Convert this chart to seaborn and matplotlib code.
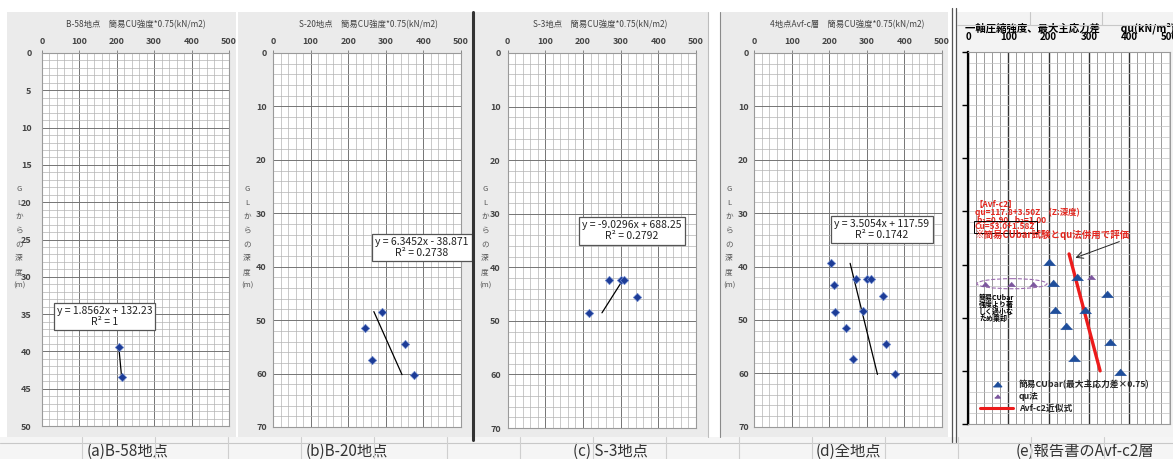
import numpy as np
import pandas as pd
import matplotlib
matplotlib.use("Agg")
import matplotlib.pyplot as plt
import seaborn as sns
from matplotlib.patches import Rectangle, Ellipse
from matplotlib.lines import Line2D
from matplotlib.markers import MarkerStyle
from matplotlib.ticker import MultipleLocator

# ---------------- data ----------------
b58_depth = [39.4, 43.4]
b58_cu = [205.2, 212.7]
b20_depth = [48.4, 51.5, 54.5, 57.4, 60.2]
b20_cu = [291.0, 244.3, 352.2, 264.6, 376.2]
s3_depth = [42.4, 42.4, 42.4, 45.5, 48.5]
s3_cu = [270.2, 300.3, 310.1, 342.5, 216.5]

fit_slope = [1.8562, 6.3452, -9.0296, 3.5054]
fit_intercept = [132.23, -38.871, 688.25, 117.59]
fit_r2 = ["1", "0.2738", "0.2792", "0.1742"]

panel_titles = ["B-58地点　簡易CU強度*0.75(kN/m2)",
                "S-20地点　簡易CU強度*0.75(kN/m2)",
                "S-3地点　簡易CU強度*0.75(kN/m2)",
                "4地点Avf-c層　簡易CU強度*0.75(kN/m2)"]
captions = ["(a)B-58地点", "(b)B-20地点", "(c) S-3地点", "(d)全地点", "(e)報告書のAvf-c2層"]
ylabel_chars = ["G", "L", "か", "ら", "の", "深", "度", "(m)"]

# panel (e)
cubar_depth = [39.5, 43.5, 42.4, 45.5, 48.5, 48.5, 51.5, 54.5, 57.5, 60.2]
cubar_strength = [201, 212, 270, 344, 215, 291, 242, 353, 263, 376]
qu_depth = [42.4, 43.6, 43.6, 43.6]
qu_strength = [304, 42, 107, 161]
avf_intercept = 117.8
avf_slope = 3.50
avf_depth_range = [38.0, 60.0]

# ---------------- setup ----------------
sns.set_theme(style="white")
plt.rcParams["font.family"] = ["Noto Sans CJK JP", "DejaVu Sans"]

W, H = 1173, 459
fig = plt.figure(figsize=(W / 100, H / 100), dpi=100)
fig.patch.set_facecolor("white")


def fx(px):
    return px / W


def fy(py):
    return 1 - py / H


def add_ax(x0, x1, y0, y1):
    return fig.add_axes([fx(x0), fy(y1), (x1 - x0) / W, (y1 - y0) / H])


def frect(x0, y0, x1, y1, **kw):
    r = Rectangle((fx(x0), fy(y1)), (x1 - x0) / W, (y1 - y0) / H,
                  transform=fig.transFigure, zorder=-5, **kw)
    fig.add_artist(r)


def fline(xs, ys, **kw):
    l = Line2D([fx(x) for x in xs], [fy(y) for y in ys],
               transform=fig.transFigure, **kw)
    fig.add_artist(l)


# panel backgrounds
for x0, x1 in [(7, 236), (238, 472), (475, 708), (720, 948)]:
    frect(x0, 12, x1, 437, facecolor="#ebebeb", edgecolor="none")
frect(957, 12, 1173, 437, facecolor="#f3f3f3", edgecolor="none")
frect(0, 437, 1173, 459, facecolor="#f5f5f5", edgecolor="none")

# separators
fline([473, 473], [12, 440], color="#333333", lw=2.2, zorder=5)
fline([708, 708], [12, 437], color="#bdbdbd", lw=0.8, zorder=5)
fline([720, 720], [12, 437], color="#8a8a8a", lw=0.8, zorder=5)
fline([952, 952], [8, 442], color="#555555", lw=0.9, zorder=5)
fline([955.5, 955.5], [8, 442], color="#555555", lw=0.9, zorder=5)
fline([0, 1173], [443, 443], color="#c8c8c8", lw=0.8, zorder=5)
fline([957, 1173], [25, 25], color="#c8c8c8", lw=0.8, zorder=5)
for cx in [1030, 1102]:
    fline([cx, cx], [12, 25], color="#c8c8c8", lw=0.8, zorder=5)
for k in range(15):
    cx = 82 + 73 * k
    fline([cx, cx], [437, 459], color="#cfcfcf", lw=0.8, zorder=5)

# ---------------- panels a-d ----------------
datasets = [
    (b58_cu, b58_depth),
    (b20_cu, b20_depth),
    (s3_cu, s3_depth),
    (b58_cu + b20_cu + s3_cu, b58_depth + b20_depth + s3_depth),
]
ax_px = [(42, 229, 53, 426), (273, 461, 53, 427), (507.7, 696, 53, 428), (754.3, 941.7, 53, 426.7)]
ylims = [50, 70, 70, 70]
ymaj = [5, 10, 10, 10]
ymin = [1, 2, 2, 2]
ypads = [5.5, 2.5, 3, 2]
title_cx = [136, 368, 600, 847]
ylabel_cx = [19, 247, 485, 729]
box_pos = [(167, 35.3), (396, 36.4), (330, 33.2), (340.7, 33.1)]

for i in range(4):
    ax = add_ax(*ax_px[i])
    ax.set_facecolor("white")
    cu, dep = datasets[i]
    df = pd.DataFrame({"cu": cu, "depth": dep})
    sns.scatterplot(data=df, x="cu", y="depth", ax=ax, marker="D", s=18,
                    color="#1d3c97", edgecolor="#6c88cc", linewidth=0.5, zorder=4)
    d_line = np.array([min(dep), max(dep)])
    x_line = fit_slope[i] * d_line + fit_intercept[i]
    sns.lineplot(x=x_line, y=d_line, ax=ax, sort=False, estimator=None,
                 color="black", lw=0.9, zorder=3)
    ax.set_xlim(0, 500)
    ax.set_ylim(ylims[i], 0)
    ax.xaxis.tick_top()
    ax.set_xticks(np.arange(0, 501, 100))
    ax.set_yticks(np.arange(0, ylims[i] + 1, ymaj[i]))
    ax.xaxis.set_minor_locator(MultipleLocator(20))
    ax.yaxis.set_minor_locator(MultipleLocator(ymin[i]))
    ax.grid(True, which="major", color="#747474", lw=0.7)
    ax.grid(True, which="minor", color="#b4b4b4", lw=0.5)
    ax.set_axisbelow(True)
    ax.set_xlabel("")
    ax.set_ylabel("")
    ax.tick_params(axis="both", which="major", direction="inout", length=4,
                   width=0.6, color="#777777", labelsize=6.5, labelcolor="#444444")
    ax.tick_params(axis="x", which="major", pad=3)
    ax.tick_params(axis="y", which="major", pad=ypads[i])
    ax.tick_params(which="minor", length=0)
    for lab in ax.get_xticklabels() + ax.get_yticklabels():
        lab.set_fontweight("bold")
    for sp in ax.spines.values():
        sp.set_color("#9a9a9a")
        sp.set_linewidth(0.8)
    sign = "+" if fit_intercept[i] >= 0 else "-"
    eq = f"y = {fit_slope[i]:g}x {sign} {abs(fit_intercept[i]):g}\nR² = {fit_r2[i]}"
    ax.text(box_pos[i][0], box_pos[i][1], eq, ha="center", va="center",
            multialignment="center", fontsize=7.5, color="#222222", zorder=6,
            linespacing=1.15,
            bbox=dict(boxstyle="square,pad=0.3", facecolor="white",
                      edgecolor="#555555", lw=0.9))
    fig.text(fx(title_cx[i]), fy(25), panel_titles[i], ha="center", va="center",
             fontsize=6, color="#444444")
    for k, ch in enumerate(ylabel_chars):
        fig.text(fx(ylabel_cx[i]), fy(189 + 13.8 * k), ch, ha="center", va="center",
                 fontsize=5.5, color="#555555")

# ---------------- panel e ----------------
ax = add_ax(968, 1169.5, 52, 424)
ax.set_facecolor("white")
tri = MarkerStyle([(-1, -0.55), (1, -0.55), (0, 0.6)])
dfc = pd.DataFrame({"q": cubar_strength, "depth": cubar_depth})
sns.scatterplot(data=dfc, x="q", y="depth", ax=ax, marker=tri, s=75,
                color="#1f4e9b", edgecolor="#1f4e9b", linewidth=0.3, zorder=5)
dfq = pd.DataFrame({"q": qu_strength, "depth": qu_depth})
sns.scatterplot(data=dfq, x="q", y="depth", ax=ax, marker=tri, s=35,
                color="#7c569e", edgecolor="#7c569e", linewidth=0.3, zorder=5)
zr = np.array(avf_depth_range)
sns.lineplot(x=avf_intercept + avf_slope * zr, y=zr, ax=ax, sort=False,
             estimator=None, color="#ec1b1b", lw=2.4, zorder=4)
ax.set_xlim(0, 500)
ax.set_ylim(70, 0)
ax.xaxis.tick_top()
ax.set_xticks(np.arange(0, 501, 100))
ax.set_yticks(np.arange(0, 71, 10))
ax.set_yticklabels([])
ax.xaxis.set_minor_locator(MultipleLocator(20))
ax.yaxis.set_minor_locator(MultipleLocator(2))
ax.xaxis.grid(True, which="major", color="#333333", lw=1.0)
ax.xaxis.grid(True, which="minor", color="#8c8c8c", lw=0.6)
ax.yaxis.grid(True, which="both", color="#c0c0c0", lw=0.5)
ax.set_axisbelow(True)
ax.set_xlabel("")
ax.set_ylabel("")
ax.tick_params(axis="x", which="major", length=0, pad=7, labelsize=7,
               labelcolor="black")
ax.tick_params(axis="y", which="major", direction="out", length=4, width=1,
               color="black", left=True)
ax.tick_params(which="minor", length=0)
for lab in ax.get_xticklabels():
    lab.set_fontweight("bold")
for sp in ax.spines.values():
    sp.set_color("#9a9a9a")
    sp.set_linewidth(0.8)
ax.spines["left"].set_color("black")
ax.spines["left"].set_linewidth(1.6)

red = "#e3261e"
ax.text(17, 28.6, "【Avf-c2】", color=red, fontsize=6, fontweight="bold", va="center")
ax.text(17, 30.1, "qu=117.8+3.50Z　(Z:深度)", color=red, fontsize=6, fontweight="bold", va="center")
ax.text(22, 31.5, "b₁=0.90,  b₂=1.00", color=red, fontsize=6, fontweight="bold", va="center",
        family=["Noto Sans CJK JP", "DejaVu Sans"])
ax.text(17, 32.9, "Cu=53.0+1.58Z", color=red, fontsize=6, fontweight="bold", va="center",
        bbox=dict(boxstyle="square,pad=0.15", facecolor="none", edgecolor="black", lw=0.7))
ax.text(17, 34.4, "※簡易CUbar試験とqu法併用で評価", color=red, fontsize=6.8, fontweight="bold",
        va="center")
ax.annotate("", xy=(260, 38.9), xytext=(382, 35.5),
            arrowprops=dict(arrowstyle="->", color="#222222", lw=0.7))
ax.add_patch(Ellipse((109, 43.6), width=174, height=1.9, fill=False,
                     edgecolor="#9b6bb0", lw=0.8, ls="--", zorder=4))
ax.text(27, 45.4, "簡易CUbar\n強度より著\nしく過小な\nため棄却", color="black",
        fontsize=5, fontweight="bold", va="top", ha="left", linespacing=1.0)

handles = [
    Line2D([], [], ls="none", marker=tri, markersize=6, color="#1f4e9b"),
    Line2D([], [], ls="none", marker=tri, markersize=4, color="#7c569e"),
    Line2D([], [], color="#ec1b1b", lw=2.2),
]
labels = ["簡易CUbar(最大主応力差×0.75)", "qu法", "Avf-c2近似式"]
leg = ax.legend(handles, labels, loc="upper left", bbox_to_anchor=(0.06, 0.12),
                frameon=False, fontsize=6.3, handlelength=3.8, handletextpad=0.6,
                labelspacing=0.35, borderpad=0, borderaxespad=0)
for t in leg.get_texts():
    t.set_fontweight("bold")

fig.text(fx(965), fy(28), "一軸圧縮強度、最大主応力差　　qu(kN/m²)", ha="left", va="center",
         fontsize=7.5, fontweight="bold", color="black")

# captions
cap_cx = [128, 347, 610, 848, 1085]
for cx, cap in zip(cap_cx, captions):
    fig.text(fx(cx), fy(451), cap, ha="center", va="center", fontsize=11, color="#333333")

fig.savefig("out.png", dpi=100, facecolor=fig.get_facecolor())
